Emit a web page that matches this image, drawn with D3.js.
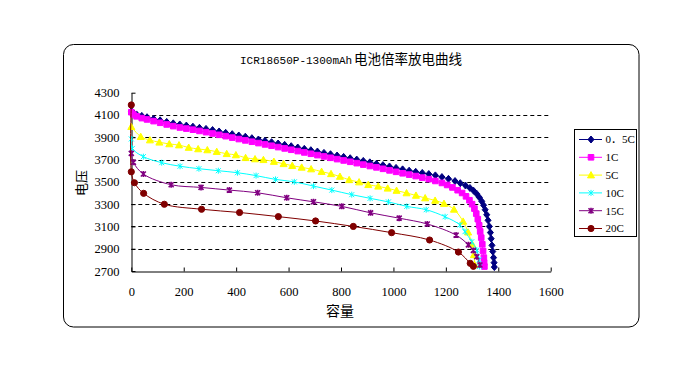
<!DOCTYPE html>
<html>
<head>
<meta charset="utf-8">
<script src="https://cdn.jsdelivr.net/npm/d3@7"></script>
<style>
  body { margin: 0; background: #fff; }
</style>
</head>
<body>
<div class="chart"></div>
<script>
// capacity (mAh) / voltage (mV) pairs
const s05 = [[0,4135],[8,4120],[20,4105],[40,4092],[60,4080],[85,4066],[110,4052],[135,4038],[160,4025],[185,4015],[210,4005],[235,3995],[260,3985],[285,3975],[310,3965],[335,3952],[360,3940],[385,3928],[410,3916],[435,3905],[460,3892],[485,3880],[510,3868],[535,3856],[560,3844],[585,3832],[610,3820],[635,3808],[660,3796],[685,3784],[710,3772],[735,3760],[760,3748],[785,3736],[810,3724],[835,3712],[860,3700],[885,3688],[910,3675],[935,3662],[960,3650],[985,3638],[1010,3625],[1035,3612],[1060,3600],[1085,3590],[1110,3580],[1135,3570],[1160,3558],[1185,3543],[1210,3527],[1235,3507],[1255,3488],[1275,3467],[1292,3445],[1306,3420],[1318,3392],[1328,3360],[1337,3325],[1344,3290],[1350,3250],[1356,3205],[1361,3155],[1366,3100],[1370,3045],[1373,2990],[1376,2930],[1379,2875],[1382,2820],[1384,2775],[1385,2735]];
const s1 = [[0,4125],[8,4105],[20,4088],[40,4072],[60,4060],[85,4045],[110,4030],[135,4015],[160,4000],[185,3988],[210,3978],[235,3968],[260,3957],[285,3946],[310,3934],[335,3922],[360,3910],[385,3897],[410,3884],[435,3872],[460,3860],[485,3848],[510,3836],[535,3824],[560,3812],[585,3800],[610,3788],[635,3776],[660,3764],[685,3752],[710,3740],[735,3728],[760,3716],[785,3704],[810,3692],[835,3680],[860,3668],[885,3655],[910,3642],[935,3630],[960,3617],[985,3603],[1010,3590],[1035,3577],[1060,3565],[1085,3552],[1110,3538],[1135,3524],[1160,3508],[1185,3490],[1205,3472],[1225,3450],[1245,3425],[1262,3400],[1277,3370],[1290,3335],[1300,3300],[1309,3260],[1316,3215],[1322,3165],[1327,3110],[1331,3055],[1335,3000],[1339,2940],[1342,2880],[1345,2820],[1346,2775],[1347,2740]];
const s5 = [[0,3995],[36,3905],[71,3875],[107,3855],[145,3840],[182,3830],[219,3808],[255,3795],[290,3786],[326,3771],[364,3752],[399,3741],[436,3716],[472,3705],[504,3698],[544,3682],[581,3662],[614,3645],[650,3630],[686,3615],[726,3592],[762,3572],[796,3548],[831,3518],[869,3498],[904,3474],[942,3460],[978,3442],[1012,3422],[1050,3400],[1086,3378],[1121,3355],[1159,3333],[1193,3305],[1231,3253],[1266,3145],[1285,3048],[1300,2942],[1307,2845],[1310,2755]];
const s10 = [[0,3885],[4,3800],[46,3726],[116,3672],[186,3640],[258,3618],[332,3600],[405,3582],[476,3556],[550,3522],[622,3500],[695,3462],[765,3426],[841,3385],[911,3352],[981,3320],[1051,3280],[1125,3250],[1197,3187],[1254,3113],[1273,3053],[1299,2963],[1318,2888],[1327,2800],[1328,2740]];
const s15 = [[0,3756],[8,3675],[46,3570],[152,3474],[266,3450],[374,3426],[482,3402],[593,3357],[695,3321],[803,3280],[913,3222],[1022,3174],[1129,3122],[1239,3022],[1286,2935],[1305,2885],[1318,2828],[1330,2754]];
const s20 = [[0,4190],[0,3590],[12,3492],[47,3397],[126,3299],[268,3254],[413,3225],[561,3188],[703,3149],[847,3100],[993,3044],[1138,2978],[1248,2870],[1293,2769],[1305,2742]];

const seriesNames = ["0．5C", "1C", "5C", "10C", "15C", "20C"];
const seriesColors = ["#000080", "#ff00ff", "#ffff00", "#00ffff", "#800080", "#800000"];
const seriesMarkers = ["diamond", "square", "triangle", "star", "star", "circle"];
const seriesData = [s05, s1, s5, s10, s15, s20];

const xTicks = [0, 200, 400, 600, 800, 1000, 1200, 1400, 1600];
const yTicks = [2700, 2900, 3100, 3300, 3500, 3700, 3900, 4100, 4300];
const gridValues = [2900, 3100, 3300, 3500, 3700, 3900, 4100];

const titleLatin = "ICR18650P-1300mAh";
const titleCjk = "电池倍率放电曲线";

let width = 700, height = 371;
let serifFont = "'Liberation Serif', 'Noto Sans CJK SC', serif";
let monoFont = "'Liberation Mono', 'Noto Sans CJK SC', monospace";
let cjkFont = "'Noto Sans CJK SC', sans-serif";

let svg = d3.select(".chart")
    .append("svg")
    .attr("width", width)
    .attr("height", height);

// rounded chart frame
svg.append("rect")
    .attr("x", 63.5).attr("y", 44.5)
    .attr("width", 575.5).attr("height", 282.5)
    .attr("rx", 10).attr("ry", 10)
    .attr("fill", "#fff")
    .attr("stroke", "#000")
    .attr("stroke-width", 1);

// title: latin part and chinese part side by side
svg.append("text")
    .attr("x", 240)
    .attr("y", 64)
    .style("font-family", monoFont)
    .style("font-size", "11px")
    .text(titleLatin);

svg.append("text")
    .attr("x", 354)
    .attr("y", 64)
    .style("font-family", cjkFont)
    .style("font-size", "13.5px")
    .text(titleCjk);

let x = d3.scaleLinear().domain([0, 1600]).range([131.3, 550.7]);
let y = d3.scaleLinear().domain([2700, 4300]).range([271, 92.7]);

// dashed grid
svg.append("g")
    .selectAll("line")
    .data(gridValues)
    .enter()
    .append("line")
    .attr("x1", x(0)).attr("x2", x(1600))
    .attr("y1", function(d) { return Math.round(y(d)) + 0.5; })
    .attr("y2", function(d) { return Math.round(y(d)) + 0.5; })
    .attr("stroke", "#000")
    .attr("stroke-dasharray", "4,3");

let xAxis = svg.append("g")
    .attr("transform", "translate(0," + 271.5 + ")")
    .call(d3.axisBottom(x).tickValues(xTicks).tickFormat(d3.format("d"))
        .tickSize(-4).tickSizeOuter(0).tickPadding(16));

let yAxis = svg.append("g")
    .attr("transform", "translate(" + 131.5 + ",0)")
    .call(d3.axisLeft(y).tickValues(yTicks).tickFormat(d3.format("d"))
        .tickSize(-4).tickSizeOuter(0).tickPadding(12));

[xAxis, yAxis].forEach(function(g) {
    g.selectAll("text")
        .style("font-family", serifFont)
        .style("font-size", "12.5px")
        .attr("fill", "#000");
    g.selectAll("line, path").attr("stroke", "#000");
});

// axis titles
svg.append("text")
    .attr("transform", "translate(86,183) rotate(-90)")
    .style("text-anchor", "middle")
    .style("font-family", cjkFont)
    .style("font-size", "13px")
    .text("电压");

svg.append("text")
    .attr("x", 340)
    .attr("y", 316)
    .style("text-anchor", "middle")
    .style("font-family", cjkFont)
    .style("font-size", "14px")
    .text("容量");

function markerPath(type) {
    if (type === "diamond") return "M0,-3.5L3,0L0,3.5L-3,0Z";
    if (type === "square") return "M-2.8,-2.8H2.8V2.8H-2.8Z";
    if (type === "triangle") return "M0,-3.5L3.5,2.8L-3.5,2.8Z";
    if (type === "star") return "M-2.5,-2.5L2.5,2.5M-2.5,2.5L2.5,-2.5M0,-3L0,3";
    return d3.symbol().type(d3.symbolCircle).size(30)();
}

let line = d3.line()
    .x(function(d) { return x(d[0]); })
    .y(function(d) { return y(d[1]); })
    .curve(d3.curveCatmullRom.alpha(0.5));

seriesData.forEach(function(data, i) {
    let color = seriesColors[i];
    let g = svg.append("g");

    g.append("path")
        .datum(data)
        .attr("d", line)
        .attr("fill", "none")
        .attr("stroke", color)
        .attr("stroke-width", 1);

    g.selectAll("path.mark")
        .data(data)
        .enter()
        .append("path")
        .attr("class", "mark")
        .attr("transform", function(d) { return "translate(" + x(d[0]) + "," + y(d[1]) + ")"; })
        .attr("d", markerPath(seriesMarkers[i]))
        .attr("fill", seriesMarkers[i] === "star" ? "none" : color)
        .attr("stroke", color)
        .attr("stroke-width", i === 4 ? 1.6 : 1);
});

// legend
let legend = svg.append("g").attr("transform", "translate(574.5,129.5)");
legend.append("rect")
    .attr("width", 62).attr("height", 107)
    .attr("fill", "#fff")
    .attr("stroke", "#000");

let items = legend.selectAll("g.item")
    .data(seriesNames)
    .enter()
    .append("g")
    .attr("class", "item")
    .attr("transform", function(d, i) { return "translate(0," + (10 + i * 17.8) + ")"; });

items.append("line")
    .attr("x1", 4.5).attr("x2", 27.5)
    .attr("stroke", function(d, i) { return seriesColors[i]; });

items.append("path")
    .attr("transform", "translate(16.5,0)")
    .attr("d", function(d, i) { return markerPath(seriesMarkers[i]); })
    .attr("fill", function(d, i) { return seriesMarkers[i] === "star" ? "none" : seriesColors[i]; })
    .attr("stroke", function(d, i) { return seriesColors[i]; })
    .attr("stroke-width", function(d, i) { return i === 4 ? 1.6 : 1; });

items.append("text")
    .attr("x", 31)
    .attr("dy", "0.35em")
    .style("font-family", serifFont)
    .style("font-size", "11px")
    .text(function(d) { return d; });
</script>
</body>
</html>
